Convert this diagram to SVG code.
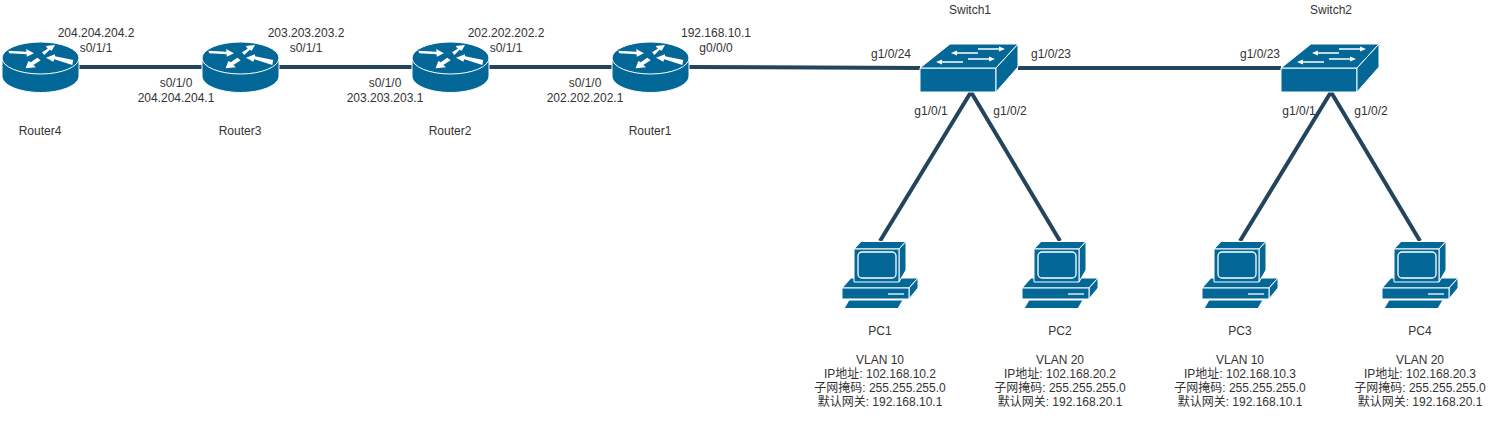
<svg xmlns="http://www.w3.org/2000/svg" width="1494" height="421" viewBox="0 0 1494 421">
<style>
text{font-family:"Liberation Sans","Noto Sans CJK SC",sans-serif;font-size:12px;fill:#333;text-anchor:middle}
.b{fill:#036897;stroke:#fff;stroke-width:1;stroke-linejoin:round}
.w{fill:#fff;stroke:none}
.wl{fill:none;stroke:#fff;stroke-width:1.300}
.c{fill:none;stroke:#23445d;stroke-width:4}
</style>
<defs>
<g id="router">
<path class="b" d="M2 58V76C2 85 19 92.500 40.500 92.500S79 85 79 76V58Z"/>
<ellipse class="b" cx="40.500" cy="58" rx="38.500" ry="16"/>
<path class="w" d="M8.300 50.700 26.700 51.700 26 49 34 53.300 26.700 56.700 26.700 54.300 9.300 53.300ZM42 52.300 47.700 48.700 45.700 46 55 45 51.700 50.700 49.700 49.700 44.300 55ZM46 57.700 55 54.300 55 56.300 73.300 60 72.300 65 54.300 59.300 53.300 61.700ZM25.700 68.300 28.300 61 30.700 62.300 37.300 57.700 40.700 60.300 33.300 65 36 67.300Z"/>
</g>
<g id="switch">
<path class="b" d="M920 68H996V92H920Z"/>
<path class="b" d="M920 68 950 44H1018L996 68Z"/>
<path class="b" d="M996 68 1018 44V67L996 92Z"/>
<path class="wl" d="M955 53H978M978 49H1001M968 59H991M940 62H963"/>
<path class="w" d="M951 53 957 50.500V55.500ZM1005 49 999 46.500V51.500ZM995 59 989 56.500V61.500ZM936 62 942 59.500V64.500Z"/>
</g>
<g id="pc">
<path class="b" d="M842 288 851 278H918L909 288Z"/>
<path class="b" d="M909 288 918 278V288L909 299Z"/>
<rect class="b" x="842" y="288" width="67" height="11"/>
<path class="wl" d="M888 294H904"/>
<path class="b" d="M854 249 861 241.500H906L899 249Z"/>
<path class="b" d="M899 249 906 241.500V270L899 282Z"/>
<rect class="b" x="854" y="249" width="45" height="33"/>
<rect x="858" y="252" width="38" height="26" rx="4" fill="none" stroke="#fff" stroke-width="1.300"/>
<path class="b" d="M844 308.500 849 300H903L898 308.500Z"/>
</g>
</defs>
<g id="connectors">
<path class="c" d="M79 67H202"/>
<path class="c" d="M279 67H412"/>
<path class="c" d="M489 67H612"/>
<path class="c" d="M689 67 920 68"/>
<path class="c" d="M1018 68H1281"/>
<path class="c" d="M971 92 880 241"/>
<path class="c" d="M971 92 1060 241"/>
<path class="c" d="M1331 92 1240 241"/>
<path class="c" d="M1331 92 1420 241"/>
</g>
<g id="router4"><use href="#router"/><text x="40" y="135">Router4</text></g>
<g id="router3"><use href="#router" x="200"/><text x="240" y="135">Router3</text></g>
<g id="router2"><use href="#router" x="410"/><text x="450" y="135">Router2</text></g>
<g id="router1"><use href="#router" x="610"/><text x="650" y="135">Router1</text></g>
<g id="switch1"><use href="#switch"/><text x="970" y="14">Switch1</text></g>
<g id="switch2"><use href="#switch" x="361"/><text x="1331" y="14">Switch2</text></g>
<g id="pc1"><use href="#pc"/><text x="880" y="335">PC1</text><text x="880" y="364">VLAN 10</text><text x="880" y="378">IP地址: 102.168.10.2</text><text x="880" y="392">子网掩码: 255.255.255.0</text><text x="880" y="406">默认网关: 192.168.10.1</text></g>
<g id="pc2"><use href="#pc" x="180"/><text x="1060" y="335">PC2</text><text x="1060" y="364">VLAN 20</text><text x="1060" y="378">IP地址: 102.168.20.2</text><text x="1060" y="392">子网掩码: 255.255.255.0</text><text x="1060" y="406">默认网关: 192.168.20.1</text></g>
<g id="pc3"><use href="#pc" x="360"/><text x="1240" y="335">PC3</text><text x="1240" y="364">VLAN 10</text><text x="1240" y="378">IP地址: 102.168.10.3</text><text x="1240" y="392">子网掩码: 255.255.255.0</text><text x="1240" y="406">默认网关: 192.168.10.1</text></g>
<g id="pc4"><use href="#pc" x="540"/><text x="1420" y="335">PC4</text><text x="1420" y="364">VLAN 20</text><text x="1420" y="378">IP地址: 102.168.20.3</text><text x="1420" y="392">子网掩码: 255.255.255.0</text><text x="1420" y="406">默认网关: 192.168.20.1</text></g>
<g id="labels">
<text x="96" y="37">204.204.204.2</text><text x="96" y="52">s0/1/1</text>
<text x="176" y="87">s0/1/0</text><text x="176" y="102">204.204.204.1</text>
<text x="306" y="37">203.203.203.2</text><text x="306" y="52">s0/1/1</text>
<text x="385" y="87">s0/1/0</text><text x="385" y="102">203.203.203.1</text>
<text x="506" y="37">202.202.202.2</text><text x="506" y="52">s0/1/1</text>
<text x="585" y="87">s0/1/0</text><text x="585" y="102">202.202.202.1</text>
<text x="716" y="37">192.168.10.1</text><text x="716" y="52">g0/0/0</text>
<text x="891" y="58">g1/0/24</text><text x="1051" y="58">g1/0/23</text>
<text x="1260" y="58">g1/0/23</text>
<text x="931" y="115">g1/0/1</text><text x="1010" y="115">g1/0/2</text>
<text x="1299" y="115">g1/0/1</text><text x="1371" y="115">g1/0/2</text>
</g>
</svg>
